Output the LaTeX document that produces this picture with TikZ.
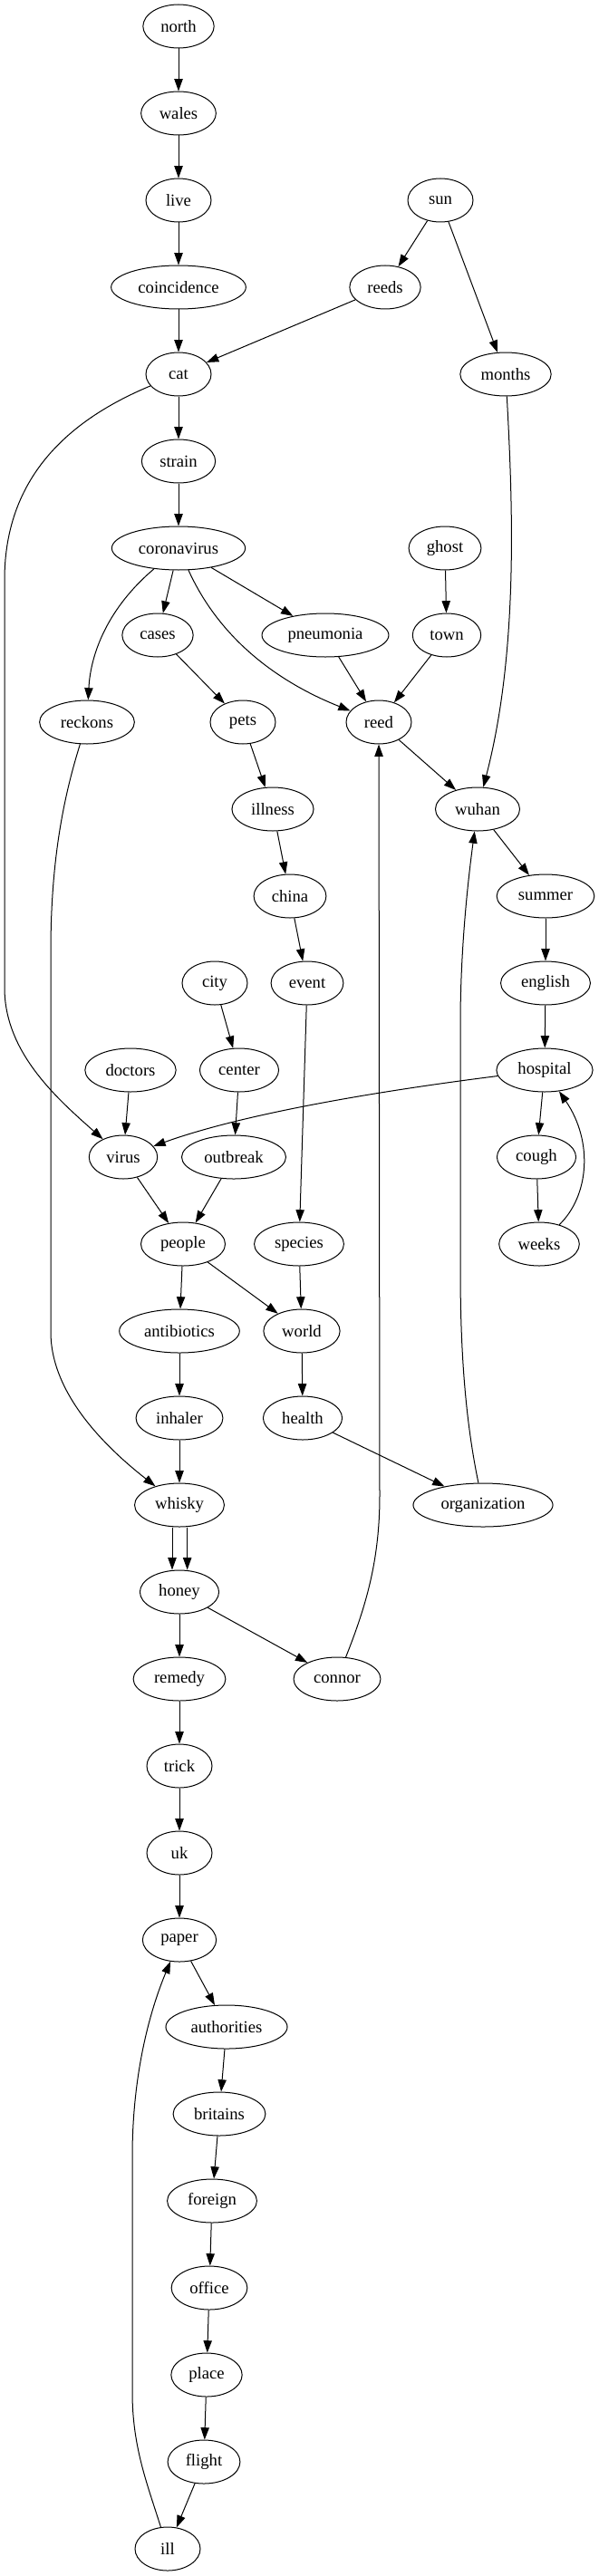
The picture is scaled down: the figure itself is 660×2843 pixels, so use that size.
\documentclass[tikz,border=0pt]{standalone}
\usepackage{fontspec}
\setmainfont{Liberation Serif}
\usetikzlibrary{shapes.geometric,arrows.meta}
\begin{document}
\begin{tikzpicture}[x=0.75pt,y=-0.75pt,
  nd/.style={draw,ellipse,line width=0.75pt,inner xsep=6pt,inner ysep=0pt,minimum height=36pt,minimum width=54pt,font=\fontsize{14pt}{16pt}\selectfont},
  ed/.style={line width=0.75pt,-{Triangle[length=10pt,width=7pt]}}]
\useasboundingbox (0,0) rectangle (660,2843);
\node[nd] (north) at (197,29) {north};
\node[nd] (wales) at (197,125) {wales};
\node[nd] (live) at (197,221) {live};
\node[nd] (coincidence) at (197,317) {coincidence};
\node[nd] (sun) at (486,221) {sun};
\node[nd] (reeds) at (425,317) {reeds};
\node[nd] (cat) at (197,413) {cat};
\node[nd] (months) at (558,413) {months};
\node[nd] (strain) at (197,509) {strain};
\node[nd] (coronavirus) at (197,605) {coronavirus};
\node[nd] (ghost) at (491,605) {ghost};
\node[nd] (cases) at (174,701) {cases};
\node[nd] (pneumonia) at (359,701) {pneumonia};
\node[nd] (town) at (493,701) {town};
\node[nd] (reckons) at (96,797) {reckons};
\node[nd] (pets) at (268,797) {pets};
\node[nd] (reed) at (418,797) {reed};
\node[nd] (illness) at (301,893) {illness};
\node[nd] (wuhan) at (527,893) {wuhan};
\node[nd] (china) at (320,989) {china};
\node[nd] (summer) at (602,989) {summer};
\node[nd] (city) at (237,1085) {city};
\node[nd] (event) at (339,1085) {event};
\node[nd] (english) at (602,1085) {english};
\node[nd] (doctors) at (144,1181) {doctors};
\node[nd] (center) at (264,1181) {center};
\node[nd] (hospital) at (601,1181) {hospital};
\node[nd] (virus) at (136,1277) {virus};
\node[nd] (outbreak) at (258,1277) {outbreak};
\node[nd] (cough) at (592,1277) {cough};
\node[nd] (people) at (202,1373) {people};
\node[nd] (species) at (330,1373) {species};
\node[nd] (weeks) at (595,1373) {weeks};
\node[nd] (antibiotics) at (198,1469) {antibiotics};
\node[nd] (world) at (333,1469) {world};
\node[nd] (inhaler) at (198,1565) {inhaler};
\node[nd] (health) at (334,1565) {health};
\node[nd] (whisky) at (198,1661) {whisky};
\node[nd] (organization) at (533,1661) {organization};
\node[nd] (honey) at (198,1757) {honey};
\node[nd] (remedy) at (198,1853) {remedy};
\node[nd] (connor) at (372,1853) {connor};
\node[nd] (trick) at (198,1949) {trick};
\node[nd] (uk) at (198,2045) {uk};
\node[nd] (paper) at (198,2141) {paper};
\node[nd] (authorities) at (250,2237) {authorities};
\node[nd] (britains) at (242,2333) {britains};
\node[nd] (foreign) at (234,2429) {foreign};
\node[nd] (office) at (231,2525) {office};
\node[nd] (place) at (228,2621) {place};
\node[nd] (flight) at (225,2717) {flight};
\node[nd] (ill) at (185,2813) {ill};

\draw[ed] (north) -- (wales);
\draw[ed] (wales) -- (live);
\draw[ed] (live) -- (coincidence);
\draw[ed] (coincidence) -- (cat);
\draw[ed] (sun) -- (reeds);
\draw[ed] (sun) -- (months);
\draw[ed] (reeds) -- (cat);
\draw[ed] (cat) -- (strain);
\draw[ed] (cat) .. controls (60,470) and (5,540) .. (5,640) -- (5,1090) .. controls (5,1160) and (60,1210) .. (virus);
\draw[ed] (months) .. controls (566,560) and (572,720) .. (wuhan);
\draw[ed] (strain) -- (coronavirus);
\draw[ed] (coronavirus) -- (cases);
\draw[ed] (coronavirus) -- (pneumonia);
\draw[ed] (coronavirus) .. controls (240,700) and (300,750) .. (reed);
\draw[ed] (coronavirus) .. controls (120,670) and (100,720) .. (reckons);
\draw[ed] (ghost) -- (town);
\draw[ed] (town) -- (reed);
\draw[ed] (pneumonia) -- (reed);
\draw[ed] (cases) -- (pets);
\draw[ed] (reckons) .. controls (70,880) and (56,950) .. (56,1050) -- (56,1470) .. controls (56,1540) and (120,1600) .. (whisky);
\draw[ed] (pets) -- (illness);
\draw[ed] (reed) -- (wuhan);
\draw[ed] (illness) -- (china);
\draw[ed] (wuhan) -- (summer);
\draw[ed] (china) -- (event);
\draw[ed] (summer) -- (english);
\draw[ed] (city) -- (center);
\draw[ed] (event) -- (species);
\draw[ed] (english) -- (hospital);
\draw[ed] (doctors) -- (virus);
\draw[ed] (center) -- (outbreak);
\draw[ed] (hospital) .. controls (450,1200) and (280,1225) .. (virus);
\draw[ed] (hospital) -- (cough);
\draw[ed] (cough) -- (weeks);
\draw[ed] (weeks) .. controls (650,1320) and (655,1260) .. (hospital);
\draw[ed] (virus) -- (people);
\draw[ed] (outbreak) -- (people);
\draw[ed] (people) -- (antibiotics);
\draw[ed] (people) -- (world);
\draw[ed] (species) -- (world);
\draw[ed] (antibiotics) -- (inhaler);
\draw[ed] (world) -- (health);
\draw[ed] (inhaler) -- (whisky);
\draw[ed] (health) -- (organization);
\draw[ed] (organization) .. controls (512,1560) and (508,1480) .. (508,1400) -- (508,1130) .. controls (508,1040) and (518,960) .. (wuhan);
\draw[ed] ([xshift=-6pt]whisky.south) -- ([xshift=-6pt]honey.north);
\draw[ed] ([xshift=6.5pt]whisky.south) -- ([xshift=6.5pt]honey.north);
\draw[ed] (honey) -- (remedy);
\draw[ed] (honey) -- (connor);
\draw[ed] (connor) .. controls (405,1770) and (419,1720) .. (419,1650) -- (reed);
\draw[ed] (remedy) -- (trick);
\draw[ed] (trick) -- (uk);
\draw[ed] (uk) -- (paper);
\draw[ed] (paper) -- (authorities);
\draw[ed] (authorities) -- (britains);
\draw[ed] (britains) -- (foreign);
\draw[ed] (foreign) -- (office);
\draw[ed] (office) -- (place);
\draw[ed] (place) -- (flight);
\draw[ed] (flight) -- (ill);
\draw[ed] (ill) .. controls (162,2740) and (146,2700) .. (146,2640) -- (146,2380) .. controls (146,2290) and (165,2220) .. (paper);
\end{tikzpicture}
\end{document}
